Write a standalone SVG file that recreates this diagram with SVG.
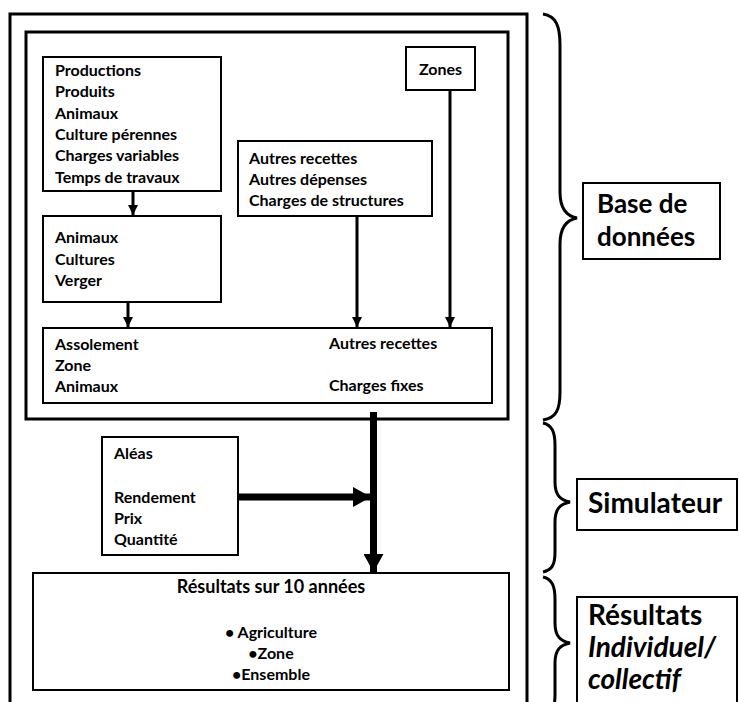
<svg xmlns="http://www.w3.org/2000/svg" width="739" height="702" viewBox="0 0 739 702">
<defs>
<style>
.t{font-family:"Lato","Liberation Sans",sans-serif;font-weight:bold;font-size:16px;fill:#000}
.big{font-family:"Lato","Liberation Sans",sans-serif;font-weight:bold;font-size:28px;fill:#000}
.box{fill:#fff;stroke:#000;stroke-width:2}
.frame{fill:none;stroke:#000;stroke-width:3}
.thin{stroke:#000;stroke-width:3;fill:none}
.thick{stroke:#000;stroke-width:7;fill:none}
.brace{stroke:#000;stroke-width:3;fill:none}
</style>
<marker id="ah" markerUnits="userSpaceOnUse" markerWidth="12" markerHeight="10" refX="10" refY="5" orient="auto">
<path d="M0,0 L10,5 L0,10 Z" fill="#000"/>
</marker>
<marker id="ahb" markerUnits="userSpaceOnUse" markerWidth="20" markerHeight="20" refX="18" refY="10" orient="auto">
<path d="M0,0 L18,10 L0,20 Z" fill="#000"/>
</marker>
</defs>
<rect width="739" height="702" fill="#fff"/>
<g id="outer-frame">
<path class="frame" d="M10,705 L10,14 L527,14 L527,705"/>
</g>
<g id="inner-frame">
<rect class="frame" x="26" y="32" width="482" height="387"/>
</g>
<g id="box-productions">
<rect class="box" x="43" y="57" width="178" height="134"/>
<text class="t" x="55" y="76">Productions</text>
<text class="t" x="55" y="97">Produits</text>
<text class="t" x="55" y="119">Animaux</text>
<text class="t" x="55" y="140">Culture pérennes</text>
<text class="t" x="55" y="161">Charges variables</text>
<text class="t" x="55" y="183">Temps de travaux</text>
</g>
<g id="box-animaux">
<rect class="box" x="43" y="216" width="178" height="86"/>
<text class="t" x="55" y="243">Animaux</text>
<text class="t" x="55" y="265">Cultures</text>
<text class="t" x="55" y="286">Verger</text>
</g>
<g id="box-autres">
<rect class="box" x="238" y="141" width="194" height="75"/>
<text class="t" x="249" y="164">Autres recettes</text>
<text class="t" x="249" y="185">Autres dépenses</text>
<text class="t" x="249" y="206">Charges de structures</text>
</g>
<g id="box-zones">
<rect class="box" x="406" y="47" width="69" height="43"/>
<text class="t" x="440.5" y="75" text-anchor="middle">Zones</text>
</g>
<g id="box-assolement">
<rect class="box" x="43" y="328" width="449" height="75"/>
<text class="t" x="55" y="350">Assolement</text>
<text class="t" x="55" y="371">Zone</text>
<text class="t" x="55" y="392">Animaux</text>
<text class="t" x="329" y="349">Autres recettes</text>
<text class="t" x="329" y="391">Charges fixes</text>
</g>
<g id="box-aleas">
<rect class="box" x="102" y="437" width="136" height="118"/>
<text class="t" x="114" y="459">Aléas</text>
<text class="t" x="114" y="503">Rendement</text>
<text class="t" x="114" y="524">Prix</text>
<text class="t" x="114" y="545">Quantité</text>
</g>
<g id="box-resultats">
<rect class="box" x="33" y="573" width="476" height="117"/>
<text class="t" x="271" y="593" text-anchor="middle" style="font-size:18px">Résultats sur 10 années</text>
<text class="t" x="271" y="638" text-anchor="middle">• Agriculture</text>
<text class="t" x="271" y="659" text-anchor="middle">•Zone</text>
<text class="t" x="271" y="680" text-anchor="middle">•Ensemble</text>
</g>
<g id="connectors">
<line class="thin" x1="133" y1="191" x2="133" y2="215" marker-end="url(#ah)"/>
<line class="thin" x1="128" y1="302" x2="128" y2="327" marker-end="url(#ah)"/>
<line class="thin" x1="357" y1="216" x2="357" y2="327" marker-end="url(#ah)"/>
<line class="thin" x1="450" y1="90" x2="450" y2="327" marker-end="url(#ah)"/>
<line class="thick" x1="238" y1="497" x2="371" y2="497" marker-end="url(#ahb)"/>
<line class="thick" x1="373.5" y1="412" x2="373.5" y2="572" marker-end="url(#ahb)"/>
</g>
<g id="braces">
<path class="brace" d="M543,14 C556,16 560,26 560,45 L560,192 C560,208 566,216 577,218 C566,220 560,228 560,244 L560,392 C560,410 556,418 543,420"/>
<path class="brace" d="M543,423 C552,425 555,432 555,445 L555,482 C555,495 560,500 570,502 C560,504 555,509 555,522 L555,552 C555,565 552,570 543,572"/>
<path class="brace" d="M543,577 C552,579 555,586 555,599 L555,623 C555,636 560,641 570,643 C560,645 555,650 555,663 L555,695 C555,708 552,713 543,715"/>
</g>
<g id="label-base">
<rect class="box" x="583" y="183" width="137" height="76"/>
<text class="big" x="597" y="213" style="font-size:26px">Base de</text>
<text class="big" x="597" y="246" style="font-size:26px">données</text>
</g>
<g id="label-simulateur">
<rect class="box" x="577" y="479" width="160" height="51"/>
<text class="big" x="588" y="513">Simulateur</text>
</g>
<g id="label-resultats">
<path class="box" d="M577,706 L577,597 L737,597 L737,706"/>
<text class="big" x="588" y="625">Résultats</text>
<text class="big" x="588" y="657" font-style="italic">Individuel/</text>
<text class="big" x="588" y="689" font-style="italic">collectif</text>
</g>
</svg>
